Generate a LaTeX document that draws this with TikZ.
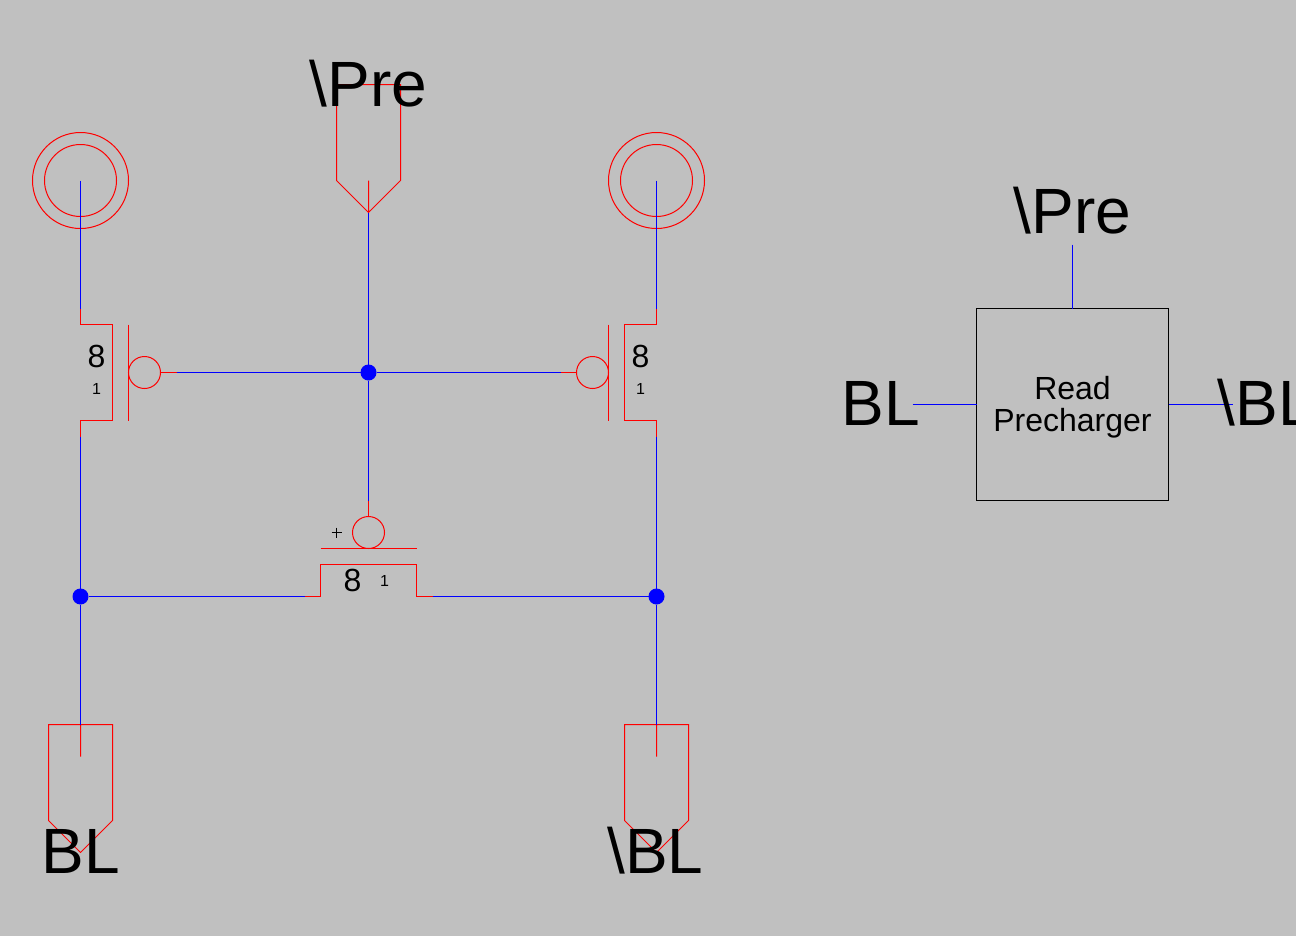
\documentclass[tikz,border=0pt]{standalone}
\usepackage{fontspec}
\setmainfont{Liberation Sans}
\definecolor{sheet}{RGB}{192,192,192}
\tikzset{
  wire/.style={draw=blue,line width=0.75pt},
  part/.style={draw=red,line width=0.75pt},
  bubble/.style={circle,draw=red,line width=0.75pt,minimum size=24pt,inner sep=0pt,outer sep=0pt},
  junction/.style={circle,fill=blue,minimum size=12pt,inner sep=0pt,outer sep=0pt},
  bigtext/.style={anchor=base,inner sep=0pt,font=\fontsize{48}{48}\selectfont},
  midtext/.style={anchor=base,inner sep=0pt,font=\fontsize{24}{24}\selectfont},
  smalltext/.style={anchor=base,inner sep=0pt,font=\fontsize{12}{12}\selectfont}
}
\begin{document}
\begin{tikzpicture}[x=0.75pt,y=0.75pt,yscale=-1,xscale=1]
\fill[sheet] (0,0) rectangle (1296,936);
\useasboundingbox (0,0) rectangle (1296,936);
\clip (0,0) rectangle (1296,936);
\begin{scope}[shift={(0.5,0.5)}]

% junctions and wire ends
\node (dotMid) [junction] at (368,372) {};
\node (dotLeft) [junction] at (80,596) {};
\node (dotRight) [junction] at (656,596) {};
\node (bubLeft) [bubble] at (144,372) {};
\node (bubRight) [bubble] at (592,372) {};
\node (bubPass) [bubble] at (368,532) {};
\coordinate (vddLeft) at (80,180);
\coordinate (vddRight) at (656,180);
\coordinate (srcLeft) at (80,308);
\coordinate (drnLeft) at (80,436);
\coordinate (srcRight) at (656,308);
\coordinate (drnRight) at (656,436);
\coordinate (gateLeft) at (176,372);
\coordinate (gateRight) at (560,372);
\coordinate (gatePass) at (368,500);
\coordinate (passLeft) at (304,596);
\coordinate (passRight) at (432,596);
\coordinate (pinPre) at (368,212);
\coordinate (pinBL) at (80,724);
\coordinate (pinNBL) at (656,724);

% supplies
\draw [part] (vddLeft) circle [radius=48];
\draw [part] (vddLeft) circle [radius=36];
\draw [part] (vddRight) circle [radius=48];
\draw [part] (vddRight) circle [radius=36];

% left transistor
\draw [part] (srcLeft) -- (80,324) -- (112,324) -- (112,420) -- (80,420) -- (drnLeft);
\draw [part] (128,324) -- (128,420);
\draw [part] (bubLeft) -- (gateLeft);
% right transistor
\draw [part] (srcRight) -- (656,324) -- (624,324) -- (624,420) -- (656,420) -- (drnRight);
\draw [part] (608,324) -- (608,420);
\draw [part] (bubRight) -- (gateRight);
% pass transistor
\draw [part] (gatePass) -- (bubPass);
\draw [part] (320,548) -- (416,548);
\draw [part] (passLeft) -- (320,596) -- (320,564) -- (416,564) -- (416,596) -- (passRight);
\draw [black,line width=0.75pt] (331,532) -- (341,532) (336,527) -- (336,537);

% pins
\draw [part] (pinPre) -- (336,180) -- (336,84) -- (400,84) -- (400,180) -- (pinPre) -- (368,180);
\draw [part] (pinBL) -- (48,724) -- (48,820) -- (80,852) -- (112,820) -- (112,724) -- (pinBL) -- (80,756);
\draw [part] (pinNBL) -- (624,724) -- (624,820) -- (656,852) -- (688,820) -- (688,724) -- (pinNBL) -- (656,756);

% wires
\draw [wire] (vddLeft) -- (srcLeft);
\draw [wire] (drnLeft) -- (dotLeft);
\draw [wire] (dotLeft) -- (pinBL);
\draw [wire] (vddRight) -- (srcRight);
\draw [wire] (drnRight) -- (dotRight);
\draw [wire] (dotRight) -- (pinNBL);
\draw [wire] (pinPre) -- (dotMid);
\draw [wire] (dotMid) -- (gatePass);
\draw [wire] (gateLeft) -- (dotMid);
\draw [wire] (dotMid) -- (gateRight);
\draw [wire] (dotLeft) -- (passLeft);
\draw [wire] (passRight) -- (dotRight);

% symbol
\node (symBox) [draw=black,line width=0.75pt,minimum size=144pt,inner sep=0pt,outer sep=0pt] at (1072,404) {};
\coordinate (symPre) at (1072,244);
\coordinate (symBL) at (912,404);
\coordinate (symNBL) at (1232,404);
\draw [wire] (symPre) -- (symBox);
\draw [wire] (symBL) -- (symBox);
\draw [wire] (symBox) -- (symNBL);

% labels
\node (lblPre) [bigtext] at (368,106) {\textbackslash Pre};
\node (lblBL) [bigtext] at (80,873) {BL};
\node (lblNBL) [bigtext] at (655,873) {\textbackslash BL};
\node (lblSymPre) [bigtext] at (1072,233) {\textbackslash Pre};
\node (lblSymBL) [bigtext] at (880,425) {BL};
\node (lblSymNBL) [bigtext,anchor=base west] at (1217,425) {\textbackslash BL};
\node (lblRead) [midtext] at (1072,399) {Read};
\node (lblPrech) [midtext] at (1072,431) {Precharger};
\node (wLeft) [midtext] at (96,367) {8};
\node (lLeft) [smalltext] at (96,394) {1};
\node (wRight) [midtext] at (640,367) {8};
\node (lRight) [smalltext] at (640,394) {1};
\node (wPass) [midtext] at (352,591) {8};
\node (lPass) [smalltext] at (384,586) {1};
\end{scope}
\end{tikzpicture}
\end{document}
